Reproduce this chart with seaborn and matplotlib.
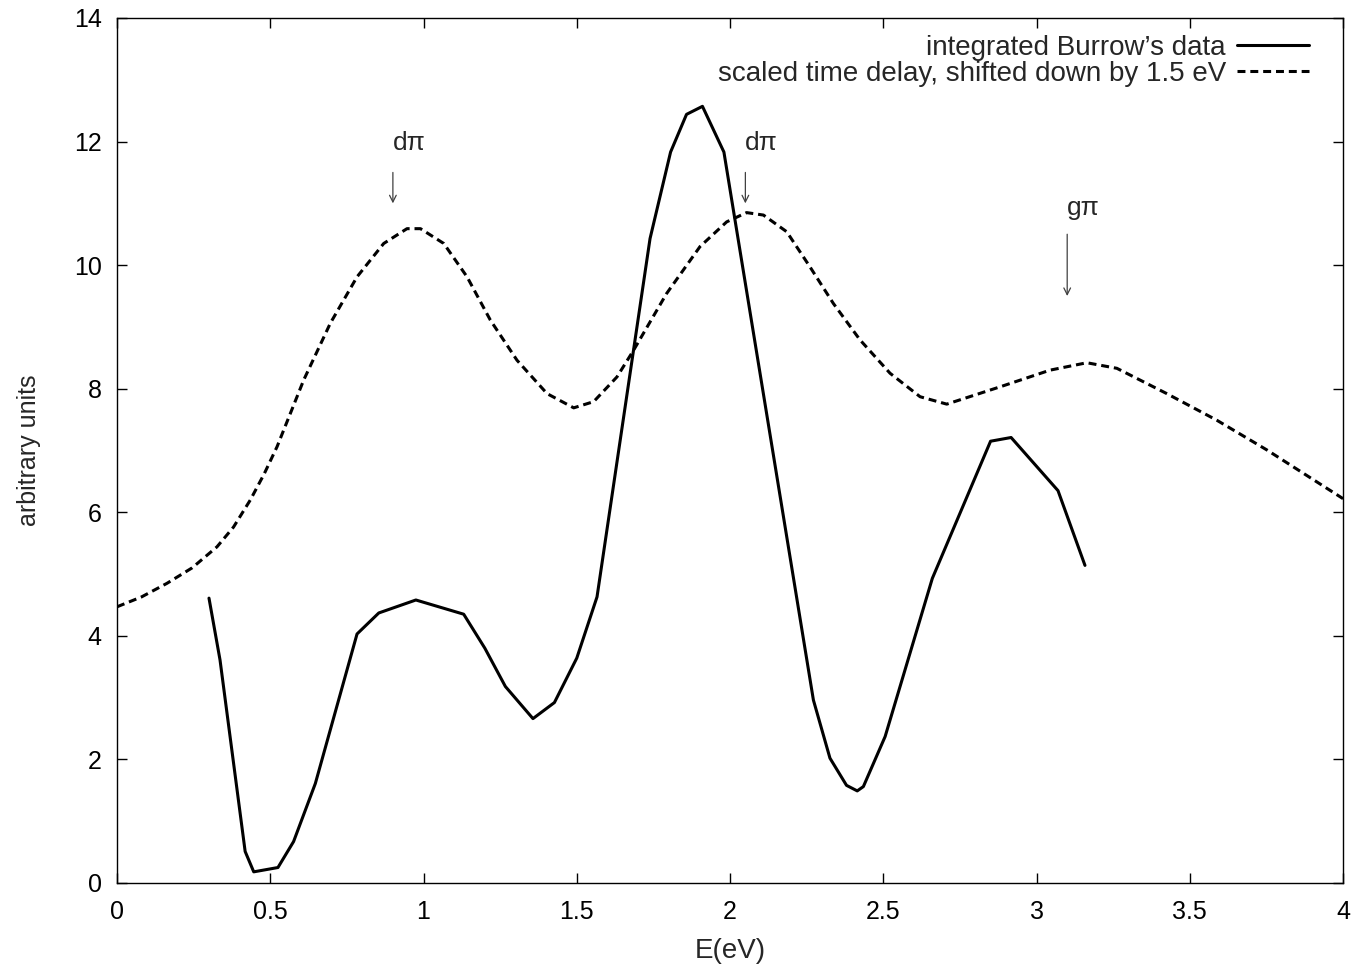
import matplotlib
matplotlib.use('Agg')
import matplotlib.pyplot as plt
import pandas as pd
import seaborn as sns

# integrated Burrow's data (solid)
burrow_e = [0.30, 0.336, 0.418, 0.446, 0.525, 0.576, 0.647, 0.783, 0.854, 0.975,
            1.131, 1.20, 1.267, 1.357, 1.427, 1.50, 1.566, 1.739, 1.806, 1.858,
            1.91, 1.98, 2.272, 2.326, 2.38, 2.415, 2.435, 2.506, 2.66, 2.85,
            2.917, 3.07, 3.158]
burrow_y = [4.61, 3.61, 0.51, 0.18, 0.25, 0.67, 1.61, 4.03, 4.37, 4.58,
            4.35, 3.80, 3.18, 2.66, 2.92, 3.64, 4.63, 10.43, 11.83, 12.44,
            12.57, 11.83, 2.96, 2.02, 1.58, 1.49, 1.56, 2.37, 4.93, 7.15,
            7.21, 6.35, 5.14]

# scaled time delay (dashed)
delay_e = [0.0, 0.08, 0.163, 0.245, 0.326, 0.38, 0.435, 0.48, 0.522, 0.609,
           0.696, 0.783, 0.870, 0.946, 0.99, 1.066, 1.142, 1.218, 1.305, 1.403,
           1.49, 1.555, 1.631, 1.685, 1.793, 1.902, 1.989, 2.054, 2.109, 2.185,
           2.261, 2.337, 2.424, 2.522, 2.62, 2.707, 2.881, 3.044, 3.164, 3.262,
           3.425, 3.588, 3.751, 4.0]
delay_y = [4.47, 4.63, 4.85, 5.10, 5.44, 5.76, 6.20, 6.62, 7.06, 8.14,
           9.06, 9.81, 10.35, 10.59, 10.59, 10.35, 9.81, 9.11, 8.46, 7.92,
           7.69, 7.79, 8.19, 8.62, 9.54, 10.30, 10.70, 10.85, 10.81, 10.54,
           9.97, 9.38, 8.79, 8.25, 7.87, 7.75, 8.03, 8.30, 8.42, 8.33,
           7.92, 7.49, 7.01, 6.22]

# peak labels: (text, x, label y, arrow start y, arrow end y)
peak_names = ['d\u03c0', 'd\u03c0', 'g\u03c0']
peak_x = [0.9, 2.05, 3.1]
label_y = [11.97, 11.97, 10.92]
arrow_from = [11.5, 11.5, 10.5]
arrow_to = [11.0, 11.0, 9.5]

sns.set_theme(style='ticks')
plt.rcParams['font.family'] = ['Liberation Sans', 'DejaVu Sans']

burrow = pd.DataFrame({'E': burrow_e, 'y': burrow_y})
delay = pd.DataFrame({'E': delay_e, 'y': delay_y})

fig = plt.figure(figsize=(13.72, 9.72), dpi=100)
ax = fig.add_axes([0.0853, 0.0916, 0.8936, 0.8899])

sns.lineplot(data=burrow, x='E', y='y', ax=ax, color='black', lw=2.2,
             estimator=None, label="integrated Burrow\u2019s data")
sns.lineplot(data=delay, x='E', y='y', ax=ax, color='black', lw=2.2,
             estimator=None, label='scaled time delay, shifted down by 1.5 eV')
ax.lines[1].set_dashes((2.6, 1.6))

for name, x, ly, y0, y1 in zip(peak_names, peak_x, label_y, arrow_from, arrow_to):
    ax.text(x, ly, name, ha='left', va='center', fontsize=19)
    ax.annotate('', xy=(x, y1), xytext=(x, y0),
                arrowprops=dict(arrowstyle='->', color='0.25', lw=0.9,
                                shrinkA=0, shrinkB=0))

ax.set_xlim(0, 4)
ax.set_ylim(0, 14)
ax.set_xticks([0, 0.5, 1, 1.5, 2, 2.5, 3, 3.5, 4])
ax.set_xticklabels(['0', '0.5', '1', '1.5', '2', '2.5', '3', '3.5', '4'])
ax.set_yticks(range(0, 15, 2))
ax.tick_params(direction='in', length=7, width=1, top=True, right=True,
               labelsize=18, colors='black')
ax.tick_params(axis='y', pad=11)
ax.tick_params(axis='x', pad=12)
for s in ax.spines.values():
    s.set_linewidth(1)
    s.set_color('black')
ax.set_xlabel('E(eV)', fontsize=20, labelpad=10)
ax.set_ylabel('arbitrary units', fontsize=18, labelpad=24)

ax.legend(loc='upper right', frameon=False, markerfirst=False,
          handlelength=2.6, handletextpad=0.4, fontsize=20, borderaxespad=0.2,
          bbox_to_anchor=(0.986, 1.0), labelspacing=0.0)

fig.savefig('out.png', dpi=100)
